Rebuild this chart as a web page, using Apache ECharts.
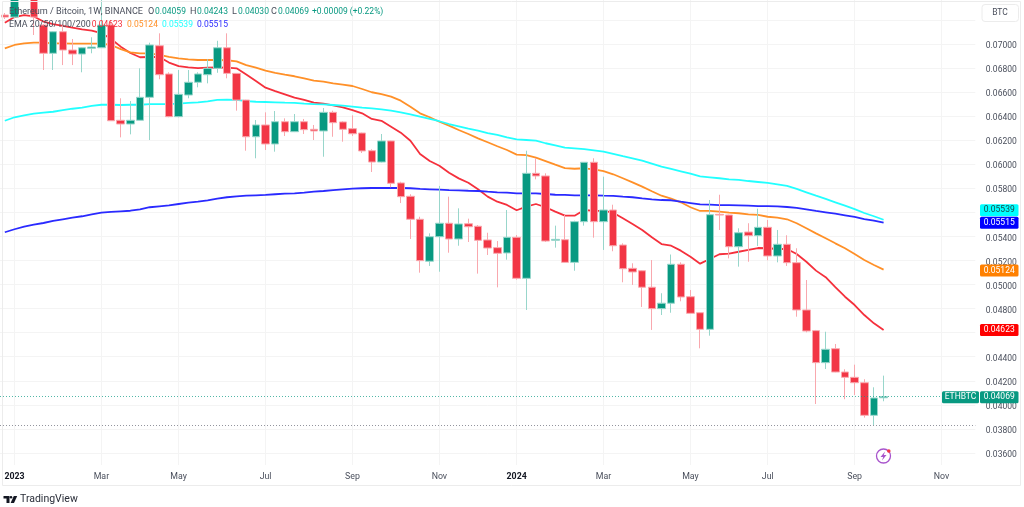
<!DOCTYPE html>
<html lang="en">
<head>
  <meta charset="UTF-8">
  <title>Ethereum / Bitcoin</title>
  <script src="https://cdn.jsdelivr.net/npm/echarts@6/dist/echarts.min.js"></script>
  <style>
    html, body { margin: 0; padding: 0; background: #fff; }
    #chart { width: 1024px; height: 507px; }
  </style>
</head>
<body>
  <div id="chart"></div>
  <script>
    // weekly candles
    const opens = [0.07241,0.07224,0.07432,0.07549,0.07158,0.06923,0.07102,0.06950,0.06917,0.06964,0.06969,0.07158,0.06366,0.06335,0.06366,0.06557,0.06986,0.06751,0.06396,0.06576,0.06682,0.06745,0.06798,0.06969,0.06756,0.06534,0.06229,0.06327,0.06169,0.06354,0.06271,0.06354,0.06291,0.06277,0.06432,0.06352,0.06296,0.06260,0.06113,0.06019,0.06194,0.05845,0.05734,0.05543,0.05194,0.05398,0.05510,0.05379,0.05506,0.05485,0.05371,0.05307,0.05263,0.05393,0.05052,0.05925,0.05903,0.05368,0.05373,0.05185,0.05523,0.06017,0.05523,0.05620,0.05329,0.05135,0.05115,0.04978,0.04800,0.04845,0.05169,0.04899,0.04766,0.04628,0.05584,0.05578,0.05315,0.05437,0.05407,0.05476,0.05238,0.05335,0.05182,0.04789,0.04617,0.04351,0.04467,0.04273,0.04229,0.04184,0.03913,0.04059]
    const closes = [0.07224,0.07432,0.07549,0.07224,0.06923,0.07102,0.06950,0.06917,0.06969,0.06975,0.07158,0.06362,0.06335,0.06366,0.06557,0.06992,0.06745,0.06396,0.06582,0.06682,0.06751,0.06798,0.06969,0.06756,0.06534,0.06229,0.06327,0.06169,0.06354,0.06271,0.06354,0.06288,0.06277,0.06432,0.06346,0.06291,0.06254,0.06111,0.06019,0.06194,0.05842,0.05731,0.05543,0.05199,0.05398,0.05510,0.05379,0.05504,0.05481,0.05368,0.05304,0.05260,0.05393,0.05052,0.05925,0.05903,0.05362,0.05376,0.05185,0.05523,0.06017,0.05523,0.05620,0.05323,0.05132,0.05105,0.04978,0.04800,0.04845,0.05169,0.04897,0.04761,0.04628,0.05581,0.05578,0.05315,0.05431,0.05407,0.05476,0.05238,0.05335,0.05182,0.04789,0.04614,0.04351,0.04462,0.04273,0.04229,0.04184,0.03913,0.04057,0.04069]
    const lows = [0.07208,0.07216,0.07407,0.07075,0.06784,0.06784,0.06825,0.06825,0.06765,0.06923,0.06967,0.06360,0.06224,0.06249,0.06364,0.06202,0.06707,0.06391,0.06391,0.06549,0.06640,0.06673,0.06761,0.06715,0.06446,0.06113,0.06050,0.06119,0.06105,0.06235,0.06268,0.06252,0.06202,0.06063,0.06229,0.06188,0.06235,0.06094,0.05936,0.06015,0.05809,0.05678,0.05379,0.05099,0.05155,0.05107,0.05265,0.05323,0.05354,0.05091,0.05246,0.04977,0.05207,0.05041,0.04789,0.05875,0.05354,0.05307,0.05184,0.05115,0.05490,0.05390,0.05288,0.05277,0.05019,0.04997,0.04814,0.04623,0.04747,0.04766,0.04861,0.04760,0.04470,0.04575,0.05454,0.05218,0.05149,0.05190,0.05321,0.05202,0.05185,0.05155,0.04733,0.04603,0.04007,0.04298,0.04271,0.04047,0.04082,0.03894,0.03830,0.04030]
    const highs = [0.07258,0.07490,0.07599,0.07599,0.07166,0.07108,0.07166,0.07042,0.06975,0.07056,0.07407,0.07200,0.06549,0.06526,0.06798,0.07011,0.07089,0.06765,0.06784,0.06784,0.06765,0.06873,0.07027,0.07089,0.06759,0.06536,0.06368,0.06432,0.06443,0.06382,0.06418,0.06377,0.06327,0.06468,0.06446,0.06358,0.06407,0.06263,0.06125,0.06252,0.06196,0.05855,0.05751,0.05564,0.05426,0.05820,0.05731,0.05634,0.05548,0.05495,0.05431,0.05362,0.05620,0.05412,0.06113,0.06052,0.05925,0.05490,0.05579,0.05531,0.06019,0.06050,0.05897,0.05664,0.05343,0.05177,0.05121,0.05204,0.04928,0.05250,0.05185,0.04955,0.04768,0.05703,0.05747,0.05581,0.05468,0.05510,0.05631,0.05537,0.05454,0.05410,0.05302,0.05038,0.04623,0.04608,0.04506,0.04296,0.04334,0.04213,0.04146,0.04243]

    // EMA 20 / 50 / 100 / 200
    const ema20 = [0.07177,0.07224,0.07241,0.07229,0.07187,0.07166,0.07150,0.07136,0.07122,0.07112,0.07091,0.07042,0.06978,0.06925,0.06890,0.06892,0.06892,0.06846,0.06817,0.06806,0.06800,0.06803,0.06806,0.06803,0.06798,0.06746,0.06692,0.06637,0.06609,0.06582,0.06555,0.06535,0.06512,0.06504,0.06490,0.06474,0.06451,0.06424,0.06377,0.06362,0.06313,0.06263,0.06196,0.06086,0.06027,0.05988,0.05930,0.05883,0.05847,0.05792,0.05731,0.05689,0.05662,0.05618,0.05648,0.05670,0.05643,0.05606,0.05573,0.05573,0.05620,0.05612,0.05612,0.05598,0.05551,0.05504,0.05454,0.05393,0.05337,0.05323,0.05282,0.05232,0.05174,0.05213,0.05252,0.05257,0.05273,0.05288,0.05304,0.05302,0.05296,0.05296,0.05254,0.05190,0.05116,0.05061,0.04978,0.04899,0.04830,0.04747,0.04678,0.04623]
    const ema50 = [0.06964,0.06992,0.07006,0.07011,0.07011,0.07006,0.07006,0.07003,0.07003,0.07003,0.07003,0.06992,0.06958,0.06931,0.06923,0.06923,0.06909,0.06894,0.06881,0.06873,0.06867,0.06867,0.06867,0.06865,0.06856,0.06825,0.06803,0.06778,0.06761,0.06745,0.06732,0.06715,0.06695,0.06687,0.06673,0.06662,0.06651,0.06626,0.06599,0.06584,0.06562,0.06529,0.06479,0.06424,0.06391,0.06354,0.06321,0.06285,0.06252,0.06216,0.06183,0.06150,0.06119,0.06080,0.06077,0.06056,0.06027,0.05997,0.05969,0.05963,0.05967,0.05958,0.05944,0.05917,0.05884,0.05850,0.05814,0.05776,0.05739,0.05714,0.05684,0.05643,0.05612,0.05612,0.05606,0.05598,0.05593,0.05584,0.05579,0.05564,0.05556,0.05543,0.05510,0.05468,0.05426,0.05385,0.05343,0.05302,0.05254,0.05204,0.05163,0.05124]
    const ema100 = [0.06362,0.06391,0.06407,0.06421,0.06429,0.06437,0.06451,0.06462,0.06471,0.06485,0.06495,0.06495,0.06493,0.06495,0.06495,0.06501,0.06501,0.06501,0.06504,0.06510,0.06515,0.06524,0.06535,0.06537,0.06535,0.06526,0.06520,0.06518,0.06515,0.06512,0.06510,0.06504,0.06501,0.06499,0.06493,0.06487,0.06479,0.06471,0.06465,0.06457,0.06446,0.06432,0.06416,0.06396,0.06377,0.06358,0.06335,0.06316,0.06296,0.06279,0.06260,0.06244,0.06224,0.06208,0.06202,0.06196,0.06175,0.06158,0.06138,0.06133,0.06127,0.06116,0.06105,0.06086,0.06067,0.06050,0.06030,0.06005,0.05980,0.05961,0.05942,0.05922,0.05900,0.05892,0.05884,0.05875,0.05870,0.05861,0.05853,0.05845,0.05834,0.05820,0.05795,0.05767,0.05739,0.05712,0.05684,0.05656,0.05628,0.05595,0.05568,0.05539]
    const ema200 = [0.05435,0.05460,0.05481,0.05498,0.05512,0.05529,0.05543,0.05556,0.05568,0.05584,0.05598,0.05604,0.05609,0.05614,0.05626,0.05643,0.05651,0.05659,0.05670,0.05681,0.05689,0.05701,0.05714,0.05726,0.05734,0.05739,0.05742,0.05745,0.05751,0.05756,0.05759,0.05764,0.05772,0.05778,0.05786,0.05792,0.05797,0.05801,0.05803,0.05803,0.05803,0.05803,0.05801,0.05795,0.05792,0.05789,0.05786,0.05784,0.05780,0.05778,0.05772,0.05767,0.05764,0.05759,0.05759,0.05759,0.05753,0.05747,0.05745,0.05742,0.05742,0.05742,0.05739,0.05737,0.05731,0.05726,0.05717,0.05709,0.05703,0.05701,0.05689,0.05678,0.05667,0.05664,0.05661,0.05661,0.05659,0.05656,0.05653,0.05653,0.05651,0.05645,0.05637,0.05626,0.05612,0.05601,0.05590,0.05576,0.05562,0.05545,0.05531,0.05515]

    const lastPrice = 0.04069
    const periodLow = 0.03827

    // 101 weekly slots: the candles plus the empty space to the right of them
    const weekCount = 101
    const xTickLabels = { 1: '2023', 10: 'Mar', 18: 'May', 27: 'Jul', 36: 'Sep', 45: 'Nov', 53: '2024', 62: 'Mar', 71: 'May', 79: 'Jul', 88: 'Sep', 97: 'Nov' }
    const yGridTicks = [0.036, 0.038, 0.04, 0.042, 0.044, 0.046, 0.048, 0.05, 0.052, 0.054, 0.056, 0.058, 0.06, 0.062, 0.064, 0.066, 0.068, 0.07, 0.072]
    const yHiddenLabels = [0.046, 0.056, 0.072] // covered by the price tags / BTC button in the original

    const categories = []
    for (let i = 0; i < weekCount; i++) {
      categories.push(new Date(Date.UTC(2022, 11, 26 + i * 7)).toISOString().slice(0, 10))
    }

    const GREEN = '#089981'
    const RED = '#f23645'
    const FONT = 'Roboto, "Noto Sans", sans-serif'

    const candleData = opens.map((o, i) => [o, closes[i], lows[i], highs[i]])

    const emaSeries = (name, data, color) => ({
      name,
      type: 'line',
      data,
      z: 2,
      showSymbol: false,
      silent: true,
      lineStyle: { color, width: 1.8 }
    })

    const chart = echarts.init(document.getElementById('chart'))

    chart.setOption({
      animation: false,
      backgroundColor: '#fff',
      grid: { left: -0.83, top: 0, width: 976.17, height: 465 },
      xAxis: {
        type: 'category',
        data: categories,
        axisLine: { show: false },
        axisTick: { show: false },
        splitLine: {
          show: true,
          alignWithLabel: true,
          interval: i => i in xTickLabels,
          lineStyle: { color: '#f4f4f4', width: 1 }
        },
        axisLabel: {
          interval: i => i in xTickLabels,
          margin: 7,
          fontFamily: FONT,
          fontSize: 8.8,
          color: '#4a4f5c',
          formatter: (value, i) => {
            const t = xTickLabels[i]
            return t.length === 4 ? '{year|' + t + '}' : t
          },
          rich: { year: { fontFamily: FONT, fontSize: 8.8, fontWeight: 'bold', color: '#131722' } }
        }
      },
      yAxis: {
        type: 'value',
        position: 'right',
        min: 0.035,
        max: 0.07366,
        scale: true,
        axisLine: { show: false },
        axisTick: { show: false, customValues: yGridTicks },
        splitLine: { show: true, lineStyle: { color: '#f4f4f4', width: 1 } },
        axisLabel: {
          customValues: yGridTicks.filter(v => !yHiddenLabels.includes(v)),
          margin: 10.5,
          verticalAlign: 'top',
          lineHeight: 4,
          fontFamily: FONT,
          fontSize: 8.5,
          color: '#4a4f5c',
          formatter: v => v.toFixed(5)
        }
      },
      series: [
        emaSeries('EMA 20', ema20, '#f5303c'),
        emaSeries('EMA 50', ema50, '#ff9028'),
        emaSeries('EMA 100', ema100, '#22ffff'),
        emaSeries('EMA 200', ema200, '#2a2aff'),
        {
          name: 'ETHBTC',
          type: 'candlestick',
          data: candleData,
          z: 3,
          barWidth: 8,
          silent: true,
          itemStyle: {
            color: GREEN,
            color0: RED,
            borderColor: '#98d6cb',
            borderColor0: '#f9a8ae',
            borderWidth: 1
          },
          markLine: {
            silent: true,
            symbol: 'none',
            precision: 5,
            label: { show: false },
            data: [
              { yAxis: lastPrice, lineStyle: { color: GREEN, type: [1, 2], width: 1, opacity: 0.7 } },
              { yAxis: periodLow, lineStyle: { color: '#787b86', type: [1, 2], width: 1, opacity: 0.8 } }
            ]
          }
        }
      ]
    })

    // chrome on top of the plot: header, tags, frame, logo
    const headerText = (x, y, text, color, size) => ({
      type: 'text', z: 50, x, y,
      style: { text, fill: color, font: (size || 8.5) + 'px ' + FONT, verticalAlign: 'middle' }
    })

    const priceTag = (x, width, value, fill, textFill, text, dy) => {
      const y = chart.convertToPixel({ yAxisIndex: 0 }, value) + dy
      return {
        type: 'rect', z: 60, x, y: y - 6,
        shape: { width, height: 12, r: 1.5 },
        style: { fill },
        textContent: { style: { text, fill: textFill, font: '8.5px ' + FONT }, z: 61 },
        textConfig: { position: 'inside' }
      }
    }

    chart.setOption({
      graphic: [
        { type: 'rect', z: 40, silent: true, shape: { x: 2.5, y: 1.5, width: 1018, height: 484 }, style: { fill: 'none', stroke: '#ececec', lineWidth: 1 } },

        headerText(9, 11.5, 'Ethereum / Bitcoin, 1W, BINANCE', '#4a4f5c', 9.1),
        headerText(148, 11.5, 'O', '#4a4f5c', 9.1), headerText(155, 11.5, '0.04059', GREEN),
        headerText(190, 11.5, 'H', '#4a4f5c', 9.1), headerText(197, 11.5, '0.04243', GREEN),
        headerText(232, 11.5, 'L', '#4a4f5c', 9.1), headerText(238, 11.5, '0.04030', GREEN),
        headerText(271, 11.5, 'C', '#4a4f5c', 9.1), headerText(278, 11.5, '0.04069', GREEN),
        headerText(312, 11.5, '+0.00009 (+0.22%)', GREEN),
        headerText(9, 24.5, 'EMA 20/50/100/200', '#4a4f5c', 8.9),
        headerText(91.7, 24.5, '0.04623', '#f5303c'),
        headerText(127, 24.5, '0.05124', '#ff9028'),
        headerText(162, 24.5, '0.05539', '#22ffff'),
        headerText(197, 24.5, '0.05515', '#2a2aff'),

        { type: 'rect', z: 60, shape: { x: 982, y: 4.5, width: 36.5, height: 17, r: 3 }, style: { fill: '#fff', stroke: '#ececec' } },
        { type: 'text', z: 61, x: 1000, y: 13, style: { text: 'BTC', fill: '#4a4f5c', font: '8.5px ' + FONT, align: 'center', verticalAlign: 'middle' } },

        priceTag(980, 38.5, ema100[ema100.length - 1], '#00ffff', '#1a4a4a', '0.05539', -9.5),
        priceTag(980, 38.5, ema200[ema200.length - 1], '#0000ff', '#ffffff', '0.05515', 0),
        priceTag(980, 38.5, ema50[ema50.length - 1], '#ff8000', '#ffffff', '0.05124', 0.8),
        priceTag(980, 38.5, ema20[ema20.length - 1], '#ff0000', '#ffffff', '0.04623', 0),
        priceTag(942, 37, lastPrice, GREEN, '#ffffff', 'ETHBTC', 0.8),
        priceTag(980, 38.5, lastPrice, GREEN, '#ffffff', '0.04069', 0.8),

        // power-up badge near the last candle
        { type: 'circle', z: 60, shape: { cx: 883.5, cy: 456, r: 7 }, style: { fill: '#fff', stroke: '#a854cc', lineWidth: 1.3 } },
        { type: 'polygon', z: 61, shape: { points: [[885, 451.5], [880.5, 457], [883.2, 457], [882, 460.5], [886.5, 455], [883.8, 455]] }, style: { fill: '#a854cc' } },
        { type: 'circle', z: 62, shape: { cx: 888.8, cy: 451, r: 1.8 }, style: { fill: '#f23645' } },

        // TradingView mark and name
        { type: 'polygon', z: 60, shape: { points: [[3.5, 496], [9.5, 496], [9.5, 503], [6.5, 503], [6.5, 498.5], [3.5, 498.5]] }, style: { fill: '#131722' } },
        { type: 'circle', z: 60, shape: { cx: 11, cy: 497.3, r: 1.3 }, style: { fill: '#131722' } },
        { type: 'polygon', z: 60, shape: { points: [[13.8, 496], [17.2, 496], [14, 503], [10.6, 503]] }, style: { fill: '#131722' } },
        { type: 'text', z: 60, x: 20, y: 499.5, style: { text: 'TradingView', fill: '#2a2e39', font: '10.5px ' + FONT, verticalAlign: 'middle' } }
      ]
    })
  </script>
</body>
</html>
